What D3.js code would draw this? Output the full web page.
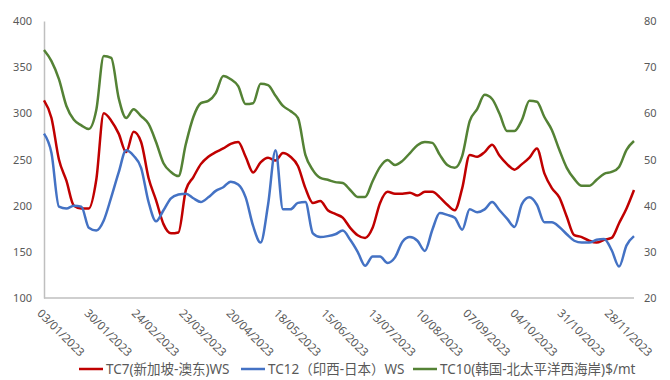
<!DOCTYPE html>
<html><head><meta charset="utf-8">
<script src="https://cdn.jsdelivr.net/npm/d3@7"></script>
<style>
body{margin:0;background:#fff;}
text{font-family:"Noto Sans","Noto Sans CJK SC",sans-serif;}
</style>
</head><body>
<svg id="c" width="670" height="380"></svg>
<script>
// ---- data ----
const tickLabels = ["03/01/2023","30/01/2023","24/02/2023","23/03/2023","20/04/2023","18/05/2023","15/06/2023","13/07/2023","10/08/2023","07/09/2023","04/10/2023","31/10/2023","28/11/2023"];
const pointsPerTick = 19;   // trading days between labelled dates
const sampleStep = 3;       // trading days between samples below
const seriesNames = ["TC7(新加坡-澳东)WS","TC12（印西-日本）WS","TC10(韩国-北太平洋西海岸)$/mt"];
const tc7 = [314,295,250,227,200,197,197,228,300,292,278,258,280,269,230,206,180,170,171,217,231,245,253,258,262,267,269,253,236,247,252,249,257,253,243,219,203,205,195,191,187,176,168,165,176,203,215,213,213,214,211,215,215,209,201,195,219,255,253,258,266,254,245,239,245,252,262,235,219,209,188,168,166,162,160,163,165,181,197,217];
const tc12 = [278,257,199,197,200,199,176,173,184,209,236,260,254,241,204,183,195,208,212,213,208,204,209,216,220,226,223,209,178,160,201,260,196,196,203,204,170,166,167,169,173,163,150,135,145,145,138,144,161,166,162,151,174,192,190,187,174,196,193,196,204,195,186,177,202,209,201,182,182,177,169,162,160,160,163,164,152,134,157,167];
const tc10 = [73.7,71.3,67.4,61.6,58.6,57.4,56.6,60.7,72.4,72.0,63.3,59.0,60.9,59.4,57.7,53.8,49.2,47.3,46.4,53.4,59.2,62.2,62.7,64.4,68.1,67.4,65.9,62.0,62.2,66.4,66.1,63.8,61.6,60.5,59.0,51.0,47.7,46.0,45.6,45.1,44.9,43.4,41.9,41.9,45.3,48.4,49.9,48.8,49.7,51.4,53.1,53.8,53.6,51.0,48.8,48.2,50.8,58.3,60.9,64.0,63.1,59.9,56.2,56.2,58.6,62.7,62.5,59.2,56.4,52.1,48.2,45.8,44.3,44.3,45.6,46.9,47.3,48.4,52.1,54.0];
const leftTicks = [100,150,200,250,300,350,400];
const rightTicks = [20,30,40,50,60,70,80];
const colors = ["#C00000","#4472C4","#548235"];

// ---- chart ----
const svg = d3.select("#c");
const lastIdx = (tc7.length - 1) * sampleStep;
const x = d3.scaleLinear().domain([0, lastIdx]).range([44, 634]);
const yL = d3.scaleLinear().domain([100, 400]).range([298, 21]);
const yR = d3.scaleLinear().domain([20, 80]).range([298, 21]);

// left axis
const gL = svg.append("g").attr("transform","translate(44,0)")
  .call(d3.axisLeft(yL).tickValues(leftTicks).tickSize(0).tickPadding(12));
gL.select(".domain").attr("stroke","#BFBFBF").attr("stroke-width",1.5);
gL.selectAll("text").attr("font-size",11).attr("fill","#595959");

// right axis
const gR = svg.append("g").attr("transform","translate(633,0)")
  .call(d3.axisRight(yR).tickValues(rightTicks).tickSize(0).tickPadding(11));
gR.select(".domain").remove();
gR.selectAll("text").attr("font-size",11).attr("fill","#595959");

// bottom axis
const gB = svg.append("g").attr("transform","translate(0,298)")
  .call(d3.axisBottom(x).tickValues(tickLabels.map((d,i)=>i*pointsPerTick))
        .tickFormat((d,i)=>tickLabels[i]).tickSize(0));
gB.select(".domain").attr("stroke","#BFBFBF").attr("stroke-width",1.5).attr("d","M44,0H634");
gB.selectAll("text").attr("font-size",11.5).attr("fill","#595959")
  .attr("text-anchor","start").attr("dy",null).attr("y",0)
  .attr("transform","translate(-8,16) rotate(45)");

// lines
const line = (ys) => d3.line().x((d,i)=>x(i*sampleStep)).y(d=>ys(d)).curve(d3.curveMonotoneX);
const data = [[tc7,yL],[tc12,yL],[tc10,yR]];
data.forEach(([vals,ys],k)=>{
  svg.append("path").datum(vals).attr("fill","none").attr("stroke",colors[k])
    .attr("stroke-width",2.5).attr("stroke-linejoin","round").attr("d",line(ys));
});

// legend
const legX = [79, 241, 413];
const lg = svg.append("g");
seriesNames.forEach((n,k)=>{
  lg.append("line").attr("x1",legX[k]).attr("x2",legX[k]+24).attr("y1",369).attr("y2",369)
    .attr("stroke",colors[k]).attr("stroke-width",2.5);
  lg.append("text").attr("x",legX[k]+27).attr("y",374).attr("font-size",13.5)
    .attr("fill","#595959").text(n);
});
</script>
</body></html>
